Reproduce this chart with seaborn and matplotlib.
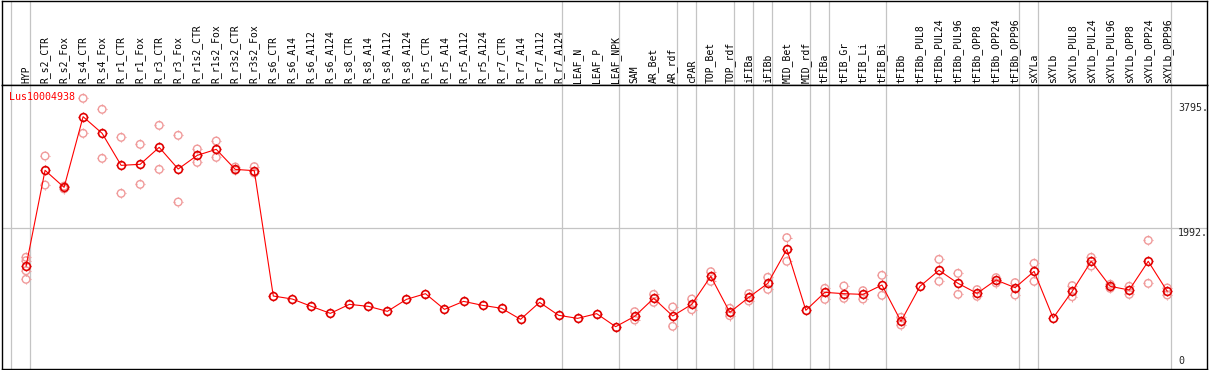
import matplotlib
matplotlib.use('Agg')
import numpy as np
import pandas as pd
import matplotlib.pyplot as plt
from matplotlib.path import Path
import seaborn as sns

# ---- data ----
gene = 'Lus10004938'

samples = [
    'HYP',
    'R_s2_CTR', 'R_s2_Fox', 'R_s4_CTR', 'R_s4_Fox', 'R_r1_CTR', 'R_r1_Fox',
    'R_r3_CTR', 'R_r3_Fox', 'R_r1s2_CTR', 'R_r1s2_Fox', 'R_r3s2_CTR', 'R_r3s2_Fox',
    'R_s6_CTR', 'R_s6_A14', 'R_s6_A112', 'R_s6_A124',
    'R_s8_CTR', 'R_s8_A14', 'R_s8_A112', 'R_s8_A124',
    'R_r5_CTR', 'R_r5_A14', 'R_r5_A112', 'R_r5_A124',
    'R_r7_CTR', 'R_r7_A14', 'R_r7_A112', 'R_r7_A124',
    'LEAF_N', 'LEAF_P', 'LEAF_NPK',
    'SAM', 'AR_Bet', 'AR_rdf',
    'cPAR',
    'TOP_Bet', 'TOP_rdf',
    'iFIBa',
    'iFIBb',
    'MID_Bet', 'MID_rdf',
    'tFIBa',
    'tFIB_Gr', 'tFIB_Li', 'tFIB_Bi',
    'tFIBb', 'tFIBb_PUL8', 'tFIBb_PUL24', 'tFIBb_PUL96',
    'tFIBb_OPP8', 'tFIBb_OPP24', 'tFIBb_OPP96',
    'sXYLa',
    'sXYLb', 'sXYLb_PUL8', 'sXYLb_PUL24', 'sXYLb_PUL96',
    'sXYLb_OPP8', 'sXYLb_OPP24', 'sXYLb_OPP96',
]

# number of samples in each separated block
group_sizes = [1, 28, 3, 3, 1, 2, 1, 1, 2, 1, 3, 7, 1, 7]

means = [
    1444,
    2828, 2583, 3602, 3362, 2900, 2915, 3160, 2847, 3044, 3131, 2842, 2823,
    1015, 972, 866, 765, 895, 866, 794, 967, 1049, 823, 938, 881,
    838, 679, 924, 737,
    693, 761, 573,
    722, 982, 727,
    895,
    1299, 780,
    996,
    1198,
    1689, 809,
    1068,
    1049, 1039, 1174,
    650, 1155, 1386, 1198, 1054, 1246, 1136,
    1371,
    698, 1083, 1516, 1155, 1102, 1516, 1083,
]

replicates = [
    [1574, 1525, 1380, 1256],
    [3035, 2616], [2600, 2560], [3867, 3362], [3708, 3001], [3304, 2496],
    [3203, 2626], [3477, 2842], [3333, 2371], [3136, 2943], [3251, 3015],
    [2876, 2828], [2881, 2790],
    [], [], [], [], [], [], [], [], [], [], [], [],
    [], [], [], [],
    [], [], [],
    [789, 669], [1039, 924], [857, 578],
    [972, 818],
    [1366, 1226], [838, 732],
    [1049, 943],
    [1285, 1111],
    [1857, 1516], [],
    [1126, 967],
    [1160, 982], [1092, 972], [1314, 1025],
    [708, 597], [], [1544, 1227], [1342, 1039], [1107, 1011], [1280, 1203], [1208, 1030],
    [1487, 1227],
    [], [1165, 1006], [1573, 1448], [1184, 1126], [1155, 1039], [1818, 1198], [1131, 1030],
]

y_marks = [0, 1992, 3795]

# ---- build frames ----
xs = np.arange(len(samples))
mean_df = pd.DataFrame({'x': xs, 'expr': means})
rep_df = pd.DataFrame(
    [(i, v) for i, vals in enumerate(replicates) for v in vals],
    columns=['x', 'expr'],
)
separators = [-0.8] + list(np.cumsum(group_sizes) - 0.8)

# tiny tick marks around each circle (drawn as a separate marker)
tl = 1.35
ticks = Path([(0, 1), (0, tl), (0, -1), (0, -tl), (1, 0), (tl, 0), (-1, 0), (-tl, 0)],
             [Path.MOVETO, Path.LINETO] * 4)

sns.set_style('white')
plt.rcParams['font.family'] = ['DejaVu Sans Mono']

W, H = 1209, 370
left_px, right_px = 1.5, 1207
fig = plt.figure(figsize=(W / 100, H / 100), dpi=100)
head = fig.add_axes([left_px / W, 1 - 85 / H, (right_px - left_px) / W, 84.3 / H])
ax = fig.add_axes([left_px / W, 1 - 369 / H, (right_px - left_px) / W, (369 - 85) / H])

xlim = (-1.29, 62.09)
gray = '#c4c4c4'

for a in (head, ax):
    a.set_xlim(*xlim)
    a.set_xticks([])
    a.set_yticks([])
    for s in a.spines.values():
        s.set_color('black')
        s.set_linewidth(1.0)
    for sx in separators:
        a.axvline(sx, color=gray, lw=0.9, zorder=0)

head.set_ylim(0, 1)
for i, name in enumerate(samples):
    head.text(i, 0.02, name, rotation=90, ha='center', va='bottom',
              fontsize=7, color='black')

ax.set_ylim(-37.5, 4059)
ax.axhline(y_marks[1], color=gray, lw=0.9, zorder=0)

# replicates (light)
sns.scatterplot(data=rep_df, x='x', y='expr', ax=ax, marker='o', s=30,
                facecolors='none', edgecolor='#f09a9a', linewidths=1.0,
                zorder=2, legend=False)
sns.scatterplot(data=rep_df, x='x', y='expr', ax=ax, marker=ticks, s=50,
                facecolors='none', edgecolor='#f09a9a', linewidths=0.8,
                zorder=2, legend=False)
# mean line with markers
sns.lineplot(data=mean_df, x='x', y='expr', ax=ax, color='red', lw=0.8,
             marker='o', markersize=5.6, markerfacecolor='none',
             markeredgecolor='#e00000', markeredgewidth=1.2, zorder=3)
sns.scatterplot(data=mean_df, x='x', y='expr', ax=ax, marker=ticks, s=50,
                facecolors='none', edgecolor='#e00000', linewidths=0.9,
                zorder=3, legend=False)
ax.set_xlabel('')
ax.set_ylabel('')
ax.set_xlim(*xlim)

ax.text(0.0065, 0.977, gene, transform=ax.transAxes, ha='left', va='top',
        color='red', fontsize=7.2)

ytr = ax.get_yaxis_transform()
ax.text(0.976, y_marks[2], f'{y_marks[2]}.', transform=ytr, ha='left', va='top', fontsize=7.2)
ax.text(0.976, y_marks[1], f'{y_marks[1]}.', transform=ytr, ha='left', va='top', fontsize=7.2)
ax.text(0.976, y_marks[0], f'{y_marks[0]}', transform=ytr, ha='left', va='bottom', fontsize=7.2)

fig.savefig('out.png', dpi=100)
